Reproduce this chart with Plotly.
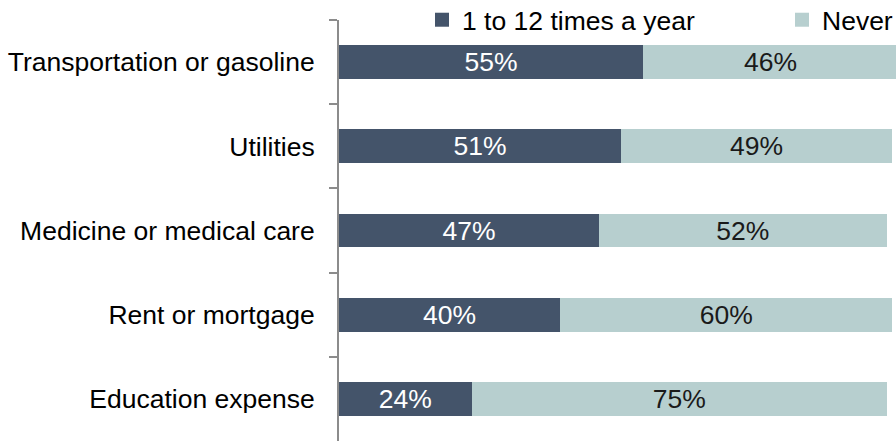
import plotly.graph_objects as go

# Survey categories, top to bottom
categories = [
    "Transportation or gasoline",
    "Utilities",
    "Medicine or medical care",
    "Rent or mortgage",
    "Education expense",
]
# Share of respondents (%)
yearly = [55, 51, 47, 40, 24]
never = [46, 49, 52, 60, 75]

series_names = ["1 to 12 times a year", "Never"]
DARK = "#44546A"
LIGHT = "#B7CFCF"
FONT = "Liberation Sans, Arial, sans-serif"
FS = 26.5

fig = go.Figure()
for vals, name, color, tcolor in [
    (yearly, series_names[0], DARK, "white"),
    (never, series_names[1], LIGHT, "#1a1a1a"),
]:
    fig.add_trace(go.Bar(
        y=categories, x=vals, name=name, orientation="h",
        marker=dict(color=color, line=dict(width=0)),
        texttemplate="%{x:.0f}%", textposition="inside", insidetextanchor="middle",
        textangle=0, constraintext="none",
        textfont=dict(color=tcolor, size=FS, family=FONT),
        showlegend=False,
    ))

# Legend entries with larger square swatches
for name, color, lw in [(series_names[0], DARK, 315), (series_names[1], LIGHT, None)]:
    fig.add_trace(go.Scatter(
        x=[None], y=[None], mode="markers", name=name,
        marker=dict(symbol="square", size=14, color=color, line=dict(width=0)),
        legendwidth=lw, showlegend=True, hoverinfo="skip",
    ))

fig.update_layout(
    width=896, height=441,
    margin=dict(l=339, r=0, t=20, b=0, autoexpand=False),
    barmode="stack", bargap=0.6,
    plot_bgcolor="white", paper_bgcolor="white",
    font=dict(family=FONT, size=FS, color="#000000"),
    legend=dict(
        orientation="h", x=(422 - 339) / 557, xanchor="left",
        y=1, yanchor="middle", traceorder="normal",
        font=dict(size=FS, color="#000000"), bgcolor="rgba(0,0,0,0)",
        itemwidth=30,
    ),
    xaxis=dict(range=[0, 100.7], showticklabels=False, showgrid=False,
               zeroline=False, showline=False, fixedrange=True),
    yaxis=dict(
        categoryorder="array", categoryarray=categories, autorange="reversed",
        showline=True, linecolor="#8C8C8C", linewidth=2,
        ticks="outside", tickson="boundaries", ticklen=8, tickcolor="#8C8C8C",
        tickwidth=2, ticklabelstandoff=17, showgrid=False,
        tickfont=dict(size=FS, color="#000000", family=FONT),
    ),
)

fig.write_html("out.html")
